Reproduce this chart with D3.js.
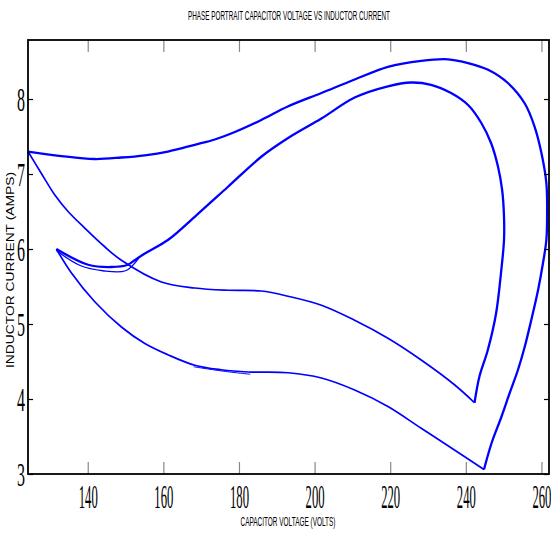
<!DOCTYPE html>
<head>
  <meta charset="utf-8">
  <script src="https://d3js.org/d3.v7.min.js"></script>
  <style>
    body { margin: 0; background: #fff; }
    .trace { fill: none; stroke: #0000ff; stroke-linejoin: round; }
    .axis text { font-family: "Liberation Serif", "Times New Roman", serif; fill: #000; }
    .label { font-family: "Liberation Sans", Arial, sans-serif; fill: #000; }
  </style>
</head>
<body>
  <svg width="551" height="533"></svg>
  <script>
    // capacitor voltage (V) / inductor current (A) pairs
    var smoothA = [
      [124.2, 7.30], [127.7, 7.01], [131.3, 6.72], [134.8, 6.50], [139.2, 6.28],
      [144.5, 6.03], [148.9, 5.85], [159.5, 5.56], [168.3, 5.48], [177.1, 5.45],
      [185.9, 5.44], [193.0, 5.37], [201.8, 5.25], [210.6, 5.05], [219.4, 4.81],
      [228.2, 4.52], [237.0, 4.19], [242.3, 3.95]
    ];
    var sawInner = [
      [242.3, 3.95], [243.6, 4.30], [245.8, 4.65], [248.0, 5.14], [249.3, 5.68],
      [250.1, 6.12], [250.1, 6.43], [249.6, 6.79], [248.5, 7.10], [246.7, 7.41],
      [244.1, 7.68], [240.6, 7.92], [236.1, 8.08], [230.8, 8.19], [225.5, 8.22],
      [219.4, 8.17], [210.6, 8.02], [201.8, 7.74], [193.0, 7.48], [185.9, 7.23],
      [177.1, 6.83], [168.3, 6.43], [161.2, 6.12], [155.1, 5.94], [152.4, 5.85],
      [150.6, 5.79], [146.2, 5.76], [140.1, 5.79], [131.7, 6.00]
    ];
    var sawInner2 = [
      [131.7, 5.98], [138.0, 5.78], [144.0, 5.71], [150.0, 5.71], [153.5, 5.88]
    ];
    var smoothB = [
      [131.7, 6.00], [135.7, 5.68], [141.8, 5.30], [148.9, 4.96], [155.1, 4.74],
      [161.2, 4.59], [168.3, 4.45], [175.3, 4.39], [182.4, 4.36], [193.0, 4.35],
      [201.8, 4.28], [210.6, 4.12], [219.4, 3.90], [228.2, 3.61], [237.0, 3.32],
      [244.8, 3.06]
    ];
    var startStub = [[168.0, 4.43], [176.0, 4.37], [183.0, 4.33]];
    var sawOuter = [
      [244.8, 3.06], [246.8, 3.41], [249.4, 3.76], [251.6, 4.08], [253.8, 4.39],
      [255.6, 4.70], [257.3, 5.05], [259.1, 5.45], [260.4, 5.81], [261.3, 6.12],
      [261.5, 6.48], [261.3, 6.88], [260.0, 7.28], [258.2, 7.63], [255.6, 7.94],
      [251.2, 8.21], [245.9, 8.39], [240.6, 8.48], [235.3, 8.53], [228.2, 8.51],
      [219.4, 8.43], [210.6, 8.26], [201.8, 8.08], [192.9, 7.90], [185.9, 7.72],
      [178.9, 7.56], [173.6, 7.46], [168.3, 7.39], [161.2, 7.30], [155.1, 7.25],
      [148.9, 7.22], [141.8, 7.20], [133.0, 7.24], [124.2, 7.30]
    ];
    var xTicks = [140, 160, 180, 200, 220, 240, 260];
    var yTicks = [3, 4, 5, 6, 7, 8];

    var svg = d3.select("svg");
    var pLeft = 28, pRight = 549, pTop = 40, pBottom = 474;

    var x = d3.scaleLinear().domain([124.2, 262]).range([pLeft, pRight]);
    var y = d3.scaleLinear().domain([3, 8.787]).range([pBottom, pTop]);

    var line = d3.line()
      .curve(d3.curveCatmullRom.alpha(0.5))
      .x(function (d) { return x(d[0]); })
      .y(function (d) { return y(d[1]); });

    var traces = [
      { d: smoothA, w: 1.7 },
      { d: smoothB, w: 1.7 },
      { d: startStub, w: 1 },
      { d: sawInner, w: 2.3 },
      { d: sawInner2, w: 1.3 },
      { d: sawOuter, w: 2.3 }
    ];
    svg.selectAll(".trace")
      .data(traces)
      .enter().append("path")
      .attr("class", "trace")
      .attr("stroke-width", function (t) { return t.w; })
      .attr("d", function (t) { return line(t.d); });

    // axes: long grey ticks on x, short black ticks on y, mirrored
    var gx = svg.append("g").attr("class", "axis")
      .attr("transform", "translate(0," + pBottom + ")")
      .call(d3.axisBottom(x).tickValues(xTicks).tickSizeInner(-12).tickSizeOuter(0));
    gx.selectAll("text")
      .attr("y", 34).attr("dy", null)
      .attr("font-size", 33)
      .attr("textLength", 19).attr("lengthAdjust", "spacingAndGlyphs");

    var gxt = svg.append("g").attr("class", "axis")
      .attr("transform", "translate(0," + pTop + ")")
      .call(d3.axisTop(x).tickValues(xTicks).tickSizeInner(-12).tickSizeOuter(0).tickFormat(""));

    [gx, gxt].forEach(function (g) {
      g.select(".domain").remove();
      g.selectAll("line").attr("stroke", "#888").attr("stroke-width", 1.2);
    });

    var gy = svg.append("g").attr("class", "axis")
      .attr("transform", "translate(" + pLeft + ",0)")
      .call(d3.axisLeft(y).tickValues(yTicks).tickSizeInner(-5).tickSizeOuter(0).tickFormat(d3.format("d")));
    gy.selectAll("text")
      .attr("x", -3).attr("dy", null).attr("y", 11)
      .attr("font-size", 34)
      .attr("textLength", 8).attr("lengthAdjust", "spacingAndGlyphs");

    var gyr = svg.append("g").attr("class", "axis")
      .attr("transform", "translate(" + pRight + ",0)")
      .call(d3.axisRight(y).tickValues(yTicks).tickSizeInner(-5).tickSizeOuter(0).tickFormat(""));

    [gy, gyr].forEach(function (g) {
      g.select(".domain").remove();
      g.selectAll("line").attr("stroke", "#000").attr("stroke-width", 1.2);
    });

    svg.append("rect")
      .attr("x", pLeft).attr("y", pTop)
      .attr("width", pRight - pLeft).attr("height", pBottom - pTop)
      .attr("fill", "none").attr("stroke", "#000").attr("stroke-width", 1.8);

    svg.append("text").attr("class", "label")
      .attr("x", 289).attr("y", 20)
      .attr("text-anchor", "middle").attr("font-size", 12)
      .attr("textLength", 202).attr("lengthAdjust", "spacingAndGlyphs")
      .text("PHASE PORTRAIT CAPACITOR VOLTAGE VS INDUCTOR CURRENT");

    svg.append("text").attr("class", "label")
      .attr("x", 288).attr("y", 526)
      .attr("text-anchor", "middle").attr("font-size", 12)
      .attr("textLength", 95).attr("lengthAdjust", "spacingAndGlyphs")
      .text("CAPACITOR VOLTAGE (VOLTS)");

    svg.append("text").attr("class", "label")
      .attr("transform", "translate(14,270) rotate(-90)")
      .attr("text-anchor", "middle").attr("font-size", 10)
      .attr("textLength", 196).attr("lengthAdjust", "spacingAndGlyphs")
      .text("INDUCTOR CURRENT (AMPS)");
  </script>
</body>
